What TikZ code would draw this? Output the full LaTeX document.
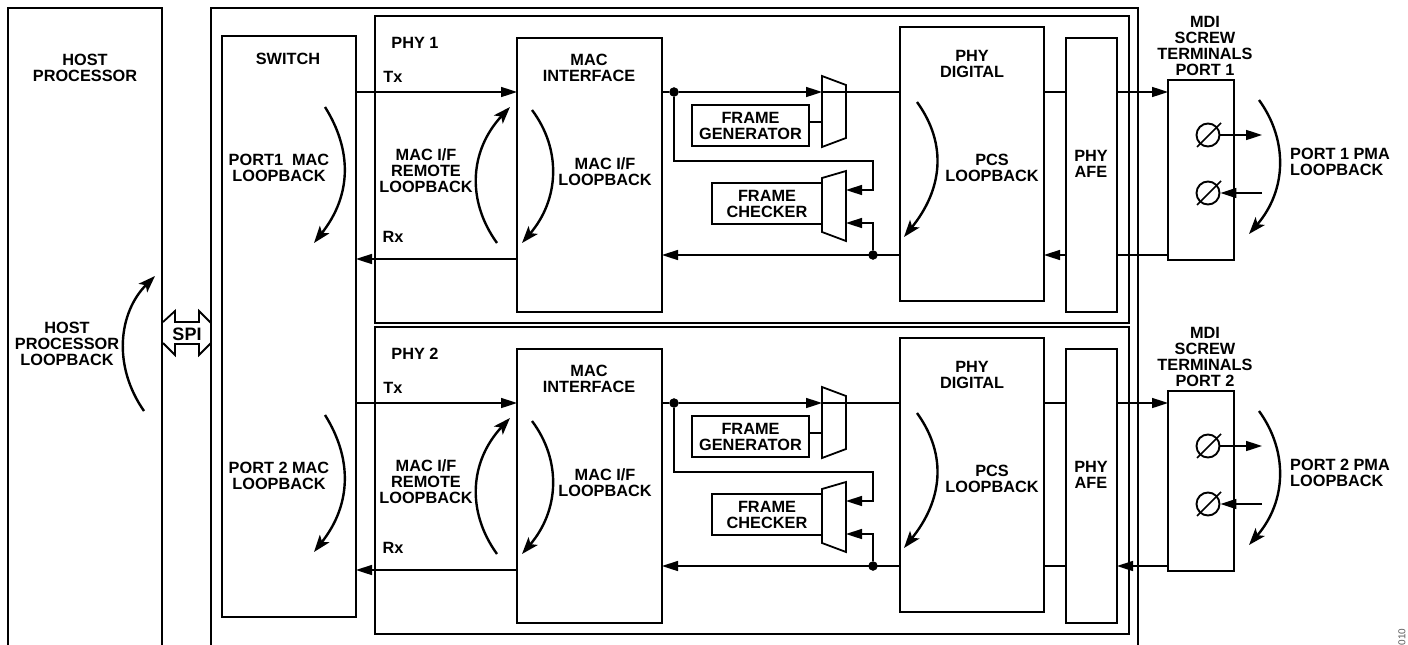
\documentclass[tikz,border=0pt]{standalone}
\usepackage{fontspec}
\setmainfont{Liberation Sans}
\usetikzlibrary{arrows.meta}

\tikzset{
    box/.style={draw, line width=1.8pt, inner sep=0pt, outer sep=0pt},
    lbl/.style={font=\bfseries\fontsize{16.3}{16}\selectfont, align=center, inner sep=0pt},
    sig/.style={line width=1.6pt},
    sigarrow/.style={line width=1.6pt, -{Triangle[length=16pt,width=10pt]}},
    looparc/.style={line width=2.4pt, -{Stealth[length=17pt,width=12pt,inset=4pt]}},
    dot/.style={draw, fill, circle, minimum size=9pt, inner sep=0pt},
    screw/.style={draw, circle, line width=1.9pt, minimum size=23pt, inner sep=0pt}
}

\begin{document}
\begin{tikzpicture}[x=1pt,y=-1pt]
        \useasboundingbox (0,0) rectangle (1408,645);

        % host and chip, both run off the bottom
        \draw [line width=1.8pt] (8,645) -- (8,8) -- (162,8) -- (162,645);
        \draw [line width=1.8pt] (211,645) -- (211,8) -- (1138,8) -- (1138,645);
        \coordinate (host) at (162,333);
        \coordinate (chip) at (211,333);

        \node [lbl] (hostname) at (85,68) {HOST\\PROCESSOR};
        \node [lbl] (hostloop) at (67,344) {HOST\\PROCESSOR\\LOOPBACK};
        \coordinate (hostarca) at (144,411);
        \coordinate (hostarcb) at (155,276);
        \draw [looparc] (hostarca) .. controls (112,365) and (119,312) .. (hostarcb);

        % SPI
        \node [lbl, font=\bfseries\fontsize{18}{18}\selectfont] (spi) at (187,334) {SPI};
        \draw [line width=1.8pt] (163,322) -- (175,311) -- (175,322) -- (199,322) -- (199,311) -- (211,323);
        \draw [line width=1.8pt] (163,343) -- (175,355) -- (175,344) -- (199,344) -- (199,355) -- (211,343);

        % switch
        \node [box, minimum width=134, minimum height=581] (switch) at (289,326.5) {};
        \node [lbl] (switchname) at (288,59) {SWITCH};
        \node [lbl] (port1mac) at (279,168) {PORT1\ \ MAC\\LOOPBACK};
        \node [lbl] (port2mac) at (279,476) {PORT 2 MAC\\LOOPBACK};
        \coordinate (swarca) at (325,107);
        \coordinate (swarcb) at (314,243);
        \coordinate (swarcc) at (325,415);
        \coordinate (swarcd) at (314,552);
        \draw [looparc] (swarca) .. controls (352,150) and (352,195) .. (swarcb);
        \draw [looparc] (swarcc) .. controls (352,458) and (352,504) .. (swarcd);

        % PHY 1
        \node [box, minimum width=754, minimum height=307] (phy) at (752,169.5) {};
        \node [lbl] (phyname) at (415,43) {PHY 1};
        \node [lbl] (tx) at (393,77) {Tx};
        \node [lbl] (rx) at (393,237) {Rx};
        \node [box, minimum width=145, minimum height=274] (macif) at (589.5,175) {};
        \node [lbl] (macname) at (589,68) {MAC\\INTERFACE};
        \node [box, minimum width=144, minimum height=274] (digital) at (972,164) {};
        \node [lbl] (digitalname) at (972,64) {PHY\\DIGITAL};
        \node [box, minimum width=51, minimum height=274] (afe) at (1091.5,175) {};
        \node [lbl] (afename) at (1091,164) {PHY\\AFE};
        \node [lbl] (remote) at (426,171) {MAC I/F\\REMOTE\\LOOPBACK};
        \node [lbl] (macloop) at (605,172) {MAC I/F\\LOOPBACK};
        \node [lbl] (pcsloop) at (992,168) {PCS\\LOOPBACK};
        \node [box, lbl, minimum width=117, minimum height=41] (gen) at (750.5,125.5) {FRAME\\GENERATOR};
        \node [box, lbl, minimum width=110, minimum height=41] (chk) at (767,203.5) {FRAME\\CHECKER};
        \draw [line width=1.8pt] (822,76) -- (846,85) -- (846,138) -- (822,147) -- cycle;
        \draw [line width=1.8pt] (822,178) -- (846,171) -- (846,241) -- (822,232) -- cycle;

        \coordinate (txup) at (0,92);
        \coordinate (rxsw) at (0,259);
        \coordinate (rxup) at (0,255);
        \coordinate (genmux) at (822,92);
        \coordinate (genlink) at (822,122);
        \coordinate (muxa) at (846,190);
        \coordinate (muxb) at (846,223);
        \node [dot] (tap) at (674,92) {};
        \node [dot] (tapb) at (873,255) {};
        \draw [sigarrow] (switch.east |- txup) -- (macif.west |- txup);
        \draw [sigarrow] (macif.west |- rxsw) -- (switch.east |- rxsw);
        \draw [sig] (macif.east |- txup) -- (tap);
        \draw [sigarrow] (tap) -- (genmux);
        \draw [sig] (genmux) -- (digital.west |- txup);
        \draw [sig] (gen.east |- genlink) -- (genlink);
        \draw [sigarrow] (tap) -- (674,161) -- (873,161) -- (873,190) -- (muxa);
        \draw [sigarrow] (tapb) -- (873,223) -- (muxb);
        \draw [sigarrow] (digital.west |- rxup) -- (macif.east |- rxup);
        \draw [sig] (digital.east |- txup) -- (afe.west |- txup);
        \draw [sigarrow] (afe.west |- rxup) -- (digital.east |- rxup);

        \coordinate (remarca) at (497,243);
        \coordinate (remarcb) at (510,107);
        \coordinate (macarca) at (532,110);
        \coordinate (macarcb) at (522,243);
        \coordinate (pcsarca) at (917,102);
        \coordinate (pcsarcb) at (904,237);
        \draw [looparc] (remarca) .. controls (466,200) and (470,150) .. (remarcb);
        \draw [looparc] (macarca) .. controls (562,150) and (559,200) .. (macarcb);
        \draw [looparc] (pcsarca) .. controls (948,145) and (942,190) .. (pcsarcb);

        % MDI 1
        \node [lbl] (mdiname) at (1205,46) {MDI\\SCREW\\TERMINALS\\PORT 1};
        \node [box, minimum width=66, minimum height=180] (mdi) at (1201,170) {};
        \draw [sigarrow] (afe.east |- txup) -- (mdi.west |- txup);
        \draw [sig] (mdi.west |- rxup) -- (afe.east |- rxup);
        \node [screw] (scra) at (1208,135) {};
        \node [screw] (scrb) at (1208,193) {};
        \draw [line width=1.5pt] (1197,147) -- (1221,123);
        \draw [line width=1.5pt] (1197,205) -- (1221,181);
        \coordinate (pmaout) at (1262,135);
        \coordinate (pmain) at (1262,193);
        \draw [sigarrow] (scra) -- (pmaout);
        \draw [sigarrow] (pmain) -- (scrb);
        \coordinate (pmaarca) at (1259,100);
        \coordinate (pmaarcb) at (1249,234);
        \draw [looparc] (pmaarca) .. controls (1288,140) and (1287,190) .. (pmaarcb);
        \node [lbl, align=left, anchor=west] (pmaloop) at (1290,162) {PORT 1 PMA\\LOOPBACK};

        % PHY 2
        \node [box, minimum width=754, minimum height=307] (phyb) at (752,480.5) {};
        \node [lbl] (phynameb) at (415,354) {PHY 2};
        \node [lbl] (txb) at (393,388) {Tx};
        \node [lbl] (rxb) at (393,548) {Rx};
        \node [box, minimum width=145, minimum height=274] (macifb) at (589.5,486) {};
        \node [lbl] (macnameb) at (589,379) {MAC\\INTERFACE};
        \node [box, minimum width=144, minimum height=274] (digitalb) at (972,475) {};
        \node [lbl] (digitalnameb) at (972,375) {PHY\\DIGITAL};
        \node [box, minimum width=51, minimum height=274] (afeb) at (1091.5,486) {};
        \node [lbl] (afenameb) at (1091,475) {PHY\\AFE};
        \node [lbl] (remoteb) at (426,482) {MAC I/F\\REMOTE\\LOOPBACK};
        \node [lbl] (macloopb) at (605,483) {MAC I/F\\LOOPBACK};
        \node [lbl] (pcsloopb) at (992,479) {PCS\\LOOPBACK};
        \node [box, lbl, minimum width=117, minimum height=41] (genb) at (750.5,436.5) {FRAME\\GENERATOR};
        \node [box, lbl, minimum width=110, minimum height=41] (chkb) at (767,514.5) {FRAME\\CHECKER};
        \draw [line width=1.8pt] (822,387) -- (846,396) -- (846,449) -- (822,458) -- cycle;
        \draw [line width=1.8pt] (822,489) -- (846,482) -- (846,552) -- (822,543) -- cycle;

        \coordinate (txdn) at (0,403);
        \coordinate (rxswb) at (0,570);
        \coordinate (rxdn) at (0,566);
        \coordinate (genmuxb) at (822,403);
        \coordinate (genlinkb) at (822,433);
        \coordinate (muxab) at (846,501);
        \coordinate (muxbb) at (846,534);
        \node [dot] (tapc) at (674,403) {};
        \node [dot] (tapd) at (873,566) {};
        \draw [sigarrow] (switch.east |- txdn) -- (macifb.west |- txdn);
        \draw [sigarrow] (macifb.west |- rxswb) -- (switch.east |- rxswb);
        \draw [sig] (macifb.east |- txdn) -- (tapc);
        \draw [sigarrow] (tapc) -- (genmuxb);
        \draw [sig] (genmuxb) -- (digitalb.west |- txdn);
        \draw [sig] (genb.east |- genlinkb) -- (genlinkb);
        \draw [sigarrow] (tapc) -- (674,472) -- (873,472) -- (873,501) -- (muxab);
        \draw [sigarrow] (tapd) -- (873,534) -- (muxbb);
        \draw [sigarrow] (digitalb.west |- rxdn) -- (macifb.east |- rxdn);
        \draw [sig] (digitalb.east |- txdn) -- (afeb.west |- txdn);
        \draw [sig] (afeb.west |- rxdn) -- (digitalb.east |- rxdn);

        \coordinate (remarcc) at (497,554);
        \coordinate (remarcd) at (510,418);
        \coordinate (macarcc) at (532,421);
        \coordinate (macarcd) at (522,554);
        \coordinate (pcsarcc) at (917,413);
        \coordinate (pcsarcd) at (904,548);
        \draw [looparc] (remarcc) .. controls (466,511) and (470,461) .. (remarcd);
        \draw [looparc] (macarcc) .. controls (562,461) and (559,511) .. (macarcd);
        \draw [looparc] (pcsarcc) .. controls (948,456) and (942,501) .. (pcsarcd);

        % MDI 2
        \node [lbl] (mdinameb) at (1205,357) {MDI\\SCREW\\TERMINALS\\PORT 2};
        \node [box, minimum width=66, minimum height=180] (mdib) at (1201,481) {};
        \draw [sigarrow] (afeb.east |- txdn) -- (mdib.west |- txdn);
        \draw [sigarrow] (mdib.west |- rxdn) -- (afeb.east |- rxdn);
        \node [screw] (scrc) at (1208,446) {};
        \node [screw] (scrd) at (1208,504) {};
        \draw [line width=1.5pt] (1197,458) -- (1221,434);
        \draw [line width=1.5pt] (1197,516) -- (1221,492);
        \coordinate (pmaoutb) at (1262,446);
        \coordinate (pmainb) at (1262,504);
        \draw [sigarrow] (scrc) -- (pmaoutb);
        \draw [sigarrow] (pmainb) -- (scrd);
        \coordinate (pmaarcc) at (1259,411);
        \coordinate (pmaarcd) at (1249,545);
        \draw [looparc] (pmaarcc) .. controls (1288,451) and (1287,501) .. (pmaarcd);
        \node [lbl, align=left, anchor=west] (pmaloopb) at (1290,473) {PORT 2 PMA\\LOOPBACK};

        \node [rotate=90, text=black!65, font=\fontsize{10}{10}\selectfont, inner sep=0pt] (figno) at (1402,637) {010};
    \end{tikzpicture}
\end{document}
